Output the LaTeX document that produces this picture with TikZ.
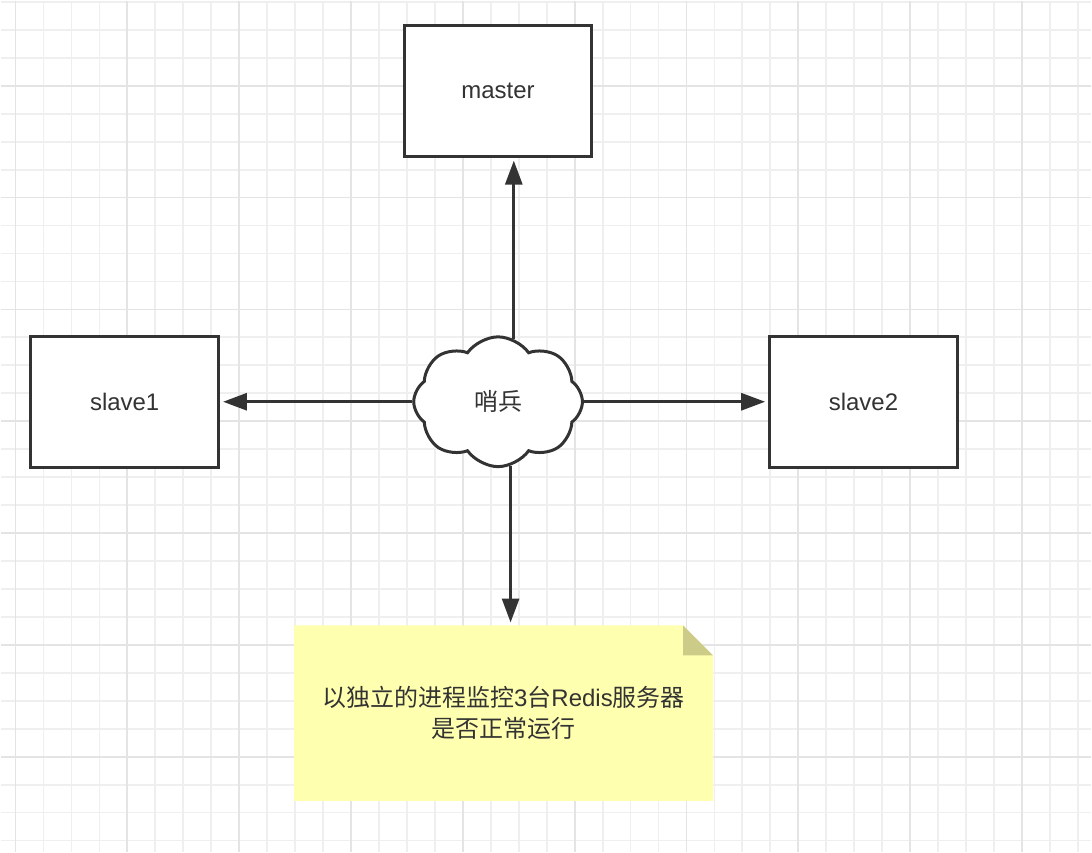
\documentclass[tikz,border=0pt]{standalone}
\usepackage{fontspec}
\setmainfont{Liberation Sans}
\newfontfamily\cjk{Noto Sans CJK SC}
\usepackage{xcolor}
\usetikzlibrary{shapes,arrows.meta,calc,backgrounds}
\pgfdeclarelayer{paper}
\pgfsetlayers{paper,background,main}
\definecolor{linegray}{HTML}{333333}
\definecolor{gridminor}{HTML}{EFEFEF}
\definecolor{gridmajor}{HTML}{E4E4E4}
\definecolor{notefill}{HTML}{FFFFB0}
\definecolor{notefold}{HTML}{CCCC88}
\tikzset{%
  block/.style  = {draw=linegray, line width=1.5pt, rectangle, fill=white,
    minimum width = 94pt, minimum height = 65.5pt}, % server box
  sentry/.style = {draw=linegray, line width=1.5pt, cloud, cloud puffs=8,
    cloud puff arc=110, cloud ignores aspect, fill=white,
    minimum width = 84.5pt, minimum height = 65pt}, % sentinel
  memo/.style   = {rectangle, align=center, minimum width = 209.5pt,
    minimum height = 87.5pt}, % note
  gridline/.style = {line width=0.9pt}
}

\begin{document}
\begin{tikzpicture}[x=0.5pt, y=-0.5pt, text=linegray,
    every node/.style={font=\fontsize{12}{15.5}\selectfont},
    link/.style={draw=linegray, line width=1.5pt,
      -{Triangle[length=12pt,width=8.5pt]}, shorten >=1.5pt}]
        % grid paper
        \begin{pgfonlayer}{paper}
        \fill[white] (0,0) rectangle (1092,852);
        \foreach \gx in {14.7,42.7,...,1092}
            \draw[gridline, gridminor] (\gx,0) -- (\gx,852);
        \foreach \gy in {1,29,...,852}
            \draw[gridline, gridminor] (0,\gy) -- (1092,\gy);
        \foreach \gx in {14.7,126.7,...,1092}
            \draw[gridline, gridmajor] (\gx,0) -- (\gx,852);
        \foreach \gy in {85,197,...,852}
            \draw[gridline, gridmajor] (0,\gy) -- (1092,\gy);
        \end{pgfonlayer}
        \useasboundingbox (0,0) rectangle (1092,852);

        \node [sentry] (sentinel) at (498,401.5) {{\cjk 哨兵}};
        \node [block, above of=sentinel, node distance=155.75pt] (master) {master};
        \node [block, left of=sentinel, node distance=187pt] (slave1) {slave1};
        \node [block, right of=sentinel, node distance=183pt] (slave2) {slave2};
        \node [memo, below of=sentinel, node distance=156pt, xshift=2.75pt] (note)
            {{\cjk 以独立的进程监控}3{\cjk 台}Redis{\cjk 服务器}\\{\cjk 是否正常运行}};
        % note paper with folded corner
        \begin{pgfonlayer}{background}
        \fill[notefill] (note.south west) -- (note.north west)
            -- ($(note.north east)+(-15pt,0)$) -- ($(note.north east)+(0,-15pt)$)
            -- (note.south east) -- cycle;
        \fill[notefold] ($(note.north east)+(-15pt,0)$) -- ++(0,-15pt) -- ++(15pt,0) -- cycle;
        \end{pgfonlayer}

        \draw[link] (sentinel.76) -- (sentinel.76 |- master.south);
        \draw[link] (sentinel.west) -- (slave1.east);
        \draw[link] (sentinel.east) -- (slave2.west);
        \draw[link] (sentinel.281) -- (sentinel.281 |- note.north);
\end{tikzpicture}
\end{document}
